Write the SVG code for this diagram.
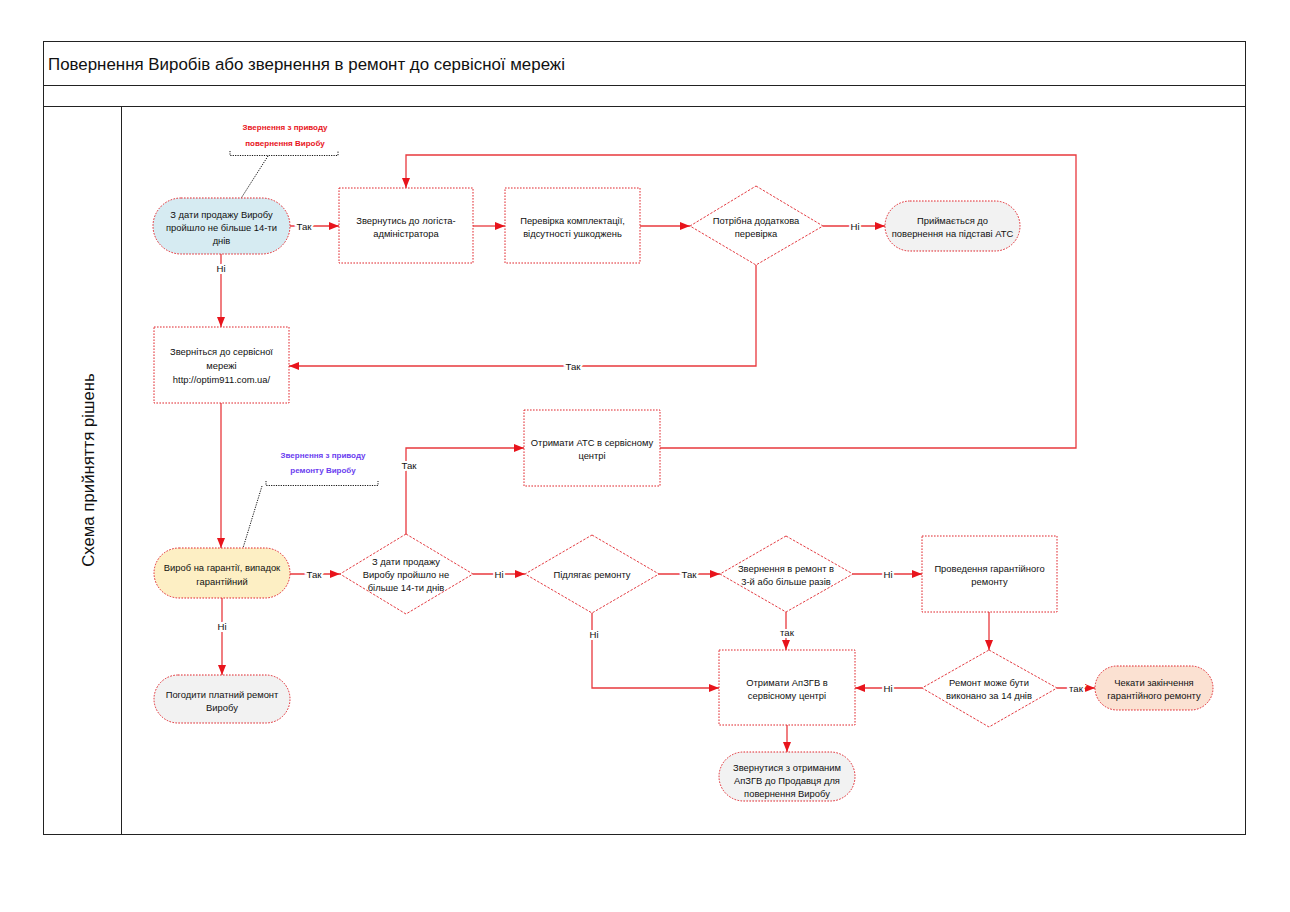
<svg xmlns="http://www.w3.org/2000/svg" width="1290" height="912" viewBox="0 0 1290 912">
<defs>
<marker id="ah" viewBox="0 0 10 8" refX="10" refY="4" markerWidth="10" markerHeight="8" markerUnits="userSpaceOnUse" orient="auto">
<path d="M0,0 L10,4 L0,8 Z" fill="#e8141c"/>
</marker>
<style>
.frame{fill:none;stroke:#222;stroke-width:1}
.node{fill:#fff;stroke:#e0262d;stroke-width:1;stroke-dasharray:1.6 1.4}
.dia{fill:#fff;stroke:#e0262d;stroke-width:0.9;stroke-dasharray:2.5 1.5}
.t{font-family:"Liberation Sans",Arial,sans-serif;font-size:9.4px;fill:#111;text-anchor:middle}
.lbl{font-family:"Liberation Sans",Arial,sans-serif;font-size:9.6px;fill:#111;text-anchor:middle;stroke:#fff;stroke-width:4;paint-order:stroke}
.c{fill:none;stroke:#e8383d;stroke-width:1.3}
.ann{font-family:"Liberation Sans",Arial,sans-serif;font-size:8px;font-weight:bold;text-anchor:middle}
.br{fill:none;stroke:#111;stroke-width:1;stroke-dasharray:1.2 1.2}
</style>
</defs>
<rect width="1290" height="912" fill="#fff"/>
<g id="frame">
<rect class="frame" x="43.5" y="41.5" width="1202" height="793"/>
<line class="frame" x1="43.5" y1="85.5" x2="1245.5" y2="85.5"/>
<line class="frame" x1="43.5" y1="106.5" x2="1245.5" y2="106.5"/>
<line class="frame" x1="121.5" y1="106.5" x2="121.5" y2="834.5"/>
<text x="48" y="70" font-family="'Liberation Sans',Arial,sans-serif" font-size="16.9" fill="#111">Повернення Виробів або звернення в ремонт до сервісної мережі</text>
<text transform="translate(94,470) rotate(-90)" font-family="'Liberation Sans',Arial,sans-serif" font-size="16.8" fill="#111" text-anchor="middle">Схема прийняття рішень</text>
</g>
<g id="annotations">
<text class="ann" x="285" y="130" fill="#e8141c">Звернення з приводу</text>
<text class="ann" x="285" y="146" fill="#e8141c">повернення Виробу</text>
<path class="br" d="M230,151 V155.5 H338 V151"/>
<line class="br" x1="268" y1="156" x2="240" y2="200"/>
<text class="ann" x="323" y="458" fill="#6a3df0">Звернення з приводу</text>
<text class="ann" x="323" y="473" fill="#6a3df0">ремонту  Виробу</text>
<path class="br" d="M266,481 V485.5 H378 V481"/>
<line class="br" x1="262" y1="486" x2="243" y2="548"/>
</g>
<g id="connectors">
<path class="c" d="M290,226 H339" marker-end="url(#ah)"/>
<path class="c" d="M473,226 H505" marker-end="url(#ah)"/>
<path class="c" d="M640,226 H690" marker-end="url(#ah)"/>
<path class="c" d="M823,226 H885" marker-end="url(#ah)"/>
<path class="c" d="M756,265 V366 H289" marker-end="url(#ah)"/>
<path class="c" d="M221,254 V327" marker-end="url(#ah)"/>
<path class="c" d="M221,403 V548" marker-end="url(#ah)"/>
<path class="c" d="M290,574 H340" marker-end="url(#ah)"/>
<path class="c" d="M406,534 V448 H524" marker-end="url(#ah)"/>
<path class="c" d="M660,448 H1076 V155 H406 V188" marker-end="url(#ah)"/>
<path class="c" d="M473,574 H525" marker-end="url(#ah)"/>
<path class="c" d="M659,574 H720" marker-end="url(#ah)"/>
<path class="c" d="M853,574 H922" marker-end="url(#ah)"/>
<path class="c" d="M592,613 V688 H719" marker-end="url(#ah)"/>
<path class="c" d="M786,612 V650" marker-end="url(#ah)"/>
<path class="c" d="M989,612 V650" marker-end="url(#ah)"/>
<path class="c" d="M922,688 H855" marker-end="url(#ah)"/>
<path class="c" d="M1057,688 H1095" marker-end="url(#ah)"/>
<path class="c" d="M787,725 V752" marker-end="url(#ah)"/>
<path class="c" d="M222,598 V675" marker-end="url(#ah)"/>
<text class="lbl" x="304" y="230">Так</text>
<text class="lbl" x="855" y="230">Ні</text>
<text class="lbl" x="573" y="370">Так</text>
<text class="lbl" x="221" y="272">Ні</text>
<text class="lbl" x="314" y="578">Так</text>
<text class="lbl" x="409" y="469">Так</text>
<text class="lbl" x="499" y="578">Ні</text>
<text class="lbl" x="689" y="578">Так</text>
<text class="lbl" x="888" y="578">Ні</text>
<text class="lbl" x="594" y="638">Ні</text>
<text class="lbl" x="787" y="636">так</text>
<text class="lbl" x="888" y="692">Ні</text>
<text class="lbl" x="1076" y="692">так</text>
<text class="lbl" x="222" y="630">Ні</text>
</g>
<g id="n1">
<rect class="node" x="153" y="198" width="137" height="56" rx="28" style="fill:#d6ebf2"/>
<text class="t" x="221.5" y="218">З дати продажу Виробу</text>
<text class="t" x="221.5" y="231">пройшло не більше 14-ти</text>
<text class="t" x="221.5" y="244">днів</text>
</g>
<g id="n2">
<rect class="node" x="339" y="188" width="134" height="75"/>
<text class="t" x="406" y="224">Звернутись до логіста-</text>
<text class="t" x="406" y="237">адміністратора</text>
</g>
<g id="n3">
<rect class="node" x="505" y="188" width="135" height="75"/>
<text class="t" x="572.5" y="224">Перевірка комплектації,</text>
<text class="t" x="572.5" y="237">відсутності ушкоджень</text>
</g>
<g id="n4">
<polygon class="dia" points="756,186 823,226 756,265 690,226"/>
<text class="t" x="756" y="224">Потрібна додаткова</text>
<text class="t" x="756" y="237">перевірка</text>
</g>
<g id="n5">
<rect class="node" x="885" y="201" width="135" height="50" rx="25" style="fill:#f2f2f2"/>
<text class="t" x="952.5" y="224">Приймається до</text>
<text class="t" x="952.5" y="237">повернення на підставі АТС</text>
</g>
<g id="n6">
<rect class="node" x="154" y="327" width="135" height="76"/>
<text class="t" x="221.5" y="355">Зверніться до сервісної</text>
<text class="t" x="221.5" y="369">мережі</text>
<text class="t" x="221.5" y="383">http://optim911.com.ua/</text>
</g>
<g id="n7">
<rect class="node" x="524" y="410" width="136" height="76"/>
<text class="t" x="592" y="446">Отримати АТС в сервісному</text>
<text class="t" x="592" y="459">центрі</text>
</g>
<g id="n8">
<rect class="node" x="154" y="548" width="136" height="50" rx="25" style="fill:#fdefc4"/>
<text class="t" x="222" y="571">Вироб на гарантії, випадок</text>
<text class="t" x="222" y="585">гарантійний</text>
</g>
<g id="n9">
<polygon class="dia" points="406,534 473,574 406,614 340,574"/>
<text class="t" x="406" y="565">З дати продажу</text>
<text class="t" x="406" y="578">Виробу пройшло не</text>
<text class="t" x="406" y="591">більше 14-ти днів</text>
</g>
<g id="n10">
<polygon class="dia" points="592,535 659,574 592,613 525,574"/>
<text class="t" x="592" y="578">Підлягає ремонту</text>
</g>
<g id="n11">
<polygon class="dia" points="786,536 853,574 786,612 720,574"/>
<text class="t" x="786" y="572">Звернення в ремонт в</text>
<text class="t" x="786" y="585">3-й або більше разів</text>
</g>
<g id="n12">
<rect class="node" x="922" y="536" width="135" height="76"/>
<text class="t" x="989.5" y="572">Проведення гарантійного</text>
<text class="t" x="989.5" y="585">ремонту</text>
</g>
<g id="n13">
<polygon class="dia" points="989,650 1057,688 989,727 922,688"/>
<text class="t" x="989" y="686">Ремонт може бути</text>
<text class="t" x="989" y="699">виконано за 14 днів</text>
</g>
<g id="n14">
<rect class="node" x="1095" y="666" width="118" height="44" rx="22" style="fill:#fbe1d2"/>
<text class="t" x="1154" y="686">Чекати закінчення</text>
<text class="t" x="1154" y="699">гарантійного ремонту</text>
</g>
<g id="n15">
<rect class="node" x="719" y="650" width="136" height="75"/>
<text class="t" x="787" y="686">Отримати АпЗГВ в</text>
<text class="t" x="787" y="699">сервісному центрі</text>
</g>
<g id="n16">
<rect class="node" x="719" y="752" width="136" height="49" rx="24.5" style="fill:#f2f2f2"/>
<text class="t" x="787" y="771">Звернутися з отриманим</text>
<text class="t" x="787" y="784">АпЗГВ до Продавця для</text>
<text class="t" x="787" y="797">повернення Виробу</text>
</g>
<g id="n17">
<rect class="node" x="154" y="675" width="136" height="48" rx="24" style="fill:#f2f2f2"/>
<text class="t" x="222" y="698">Погодити платний ремонт</text>
<text class="t" x="222" y="711">Виробу</text>
</g>
</svg>
